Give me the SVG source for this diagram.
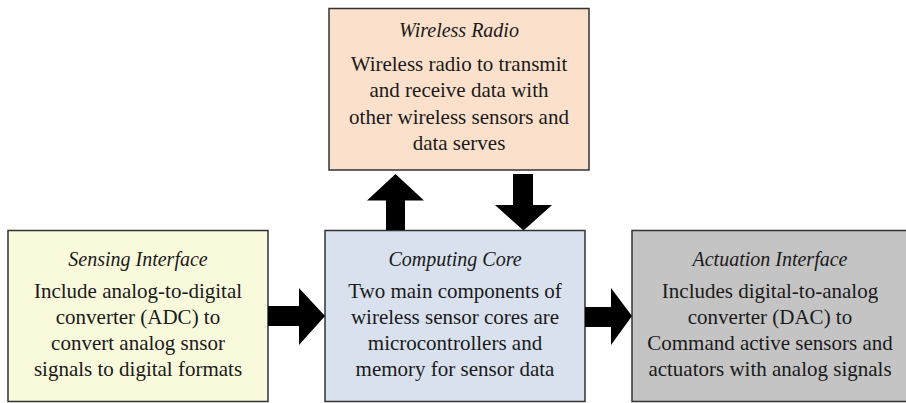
<svg xmlns="http://www.w3.org/2000/svg" width="906" height="403" viewBox="0 0 906 403">
<style>
.box{stroke:#333;stroke-width:1.5}
.t{font-family:'Liberation Serif',Tinos,'Times New Roman','DejaVu Serif',serif;font-style:italic;font-size:20px;fill:#1a1a1a;text-anchor:middle}
.b{font-family:'Liberation Serif',Tinos,'Times New Roman','DejaVu Serif',serif;font-size:21px;fill:#1a1a1a;text-anchor:middle}
.arr{fill:#000}
</style>
<rect width="906" height="403" fill="#fff"/>
<g id="wireless-radio">
<rect class="box" x="329" y="8.5" width="260" height="161.5" fill="#FBE0CB"/>
<text class="t" x="459" y="37">Wireless Radio</text>
<text class="b" x="459" y="71">Wireless radio to transmit</text>
<text class="b" x="459" y="97">and receive data with</text>
<text class="b" x="459" y="124">other wireless sensors and</text>
<text class="b" x="459" y="150">data serves</text>
</g>
<g id="sensing-interface">
<rect class="box" x="8" y="230.5" width="260" height="171" fill="#F9F9DC"/>
<text class="t" x="138" y="266">Sensing Interface</text>
<text class="b" x="138" y="298">Include analog-to-digital</text>
<text class="b" x="138" y="324">converter (ADC) to</text>
<text class="b" x="138" y="350">convert analog snsor</text>
<text class="b" x="138" y="376">signals to digital formats</text>
</g>
<g id="computing-core">
<rect class="box" x="325" y="230.5" width="260" height="171" fill="#D8E1ED"/>
<text class="t" x="455" y="266">Computing Core</text>
<text class="b" x="455" y="298">Two main components of</text>
<text class="b" x="455" y="324">wireless sensor cores are</text>
<text class="b" x="455" y="350">microcontrollers and</text>
<text class="b" x="455" y="376">memory for sensor data</text>
</g>
<g id="actuation-interface">
<rect class="box" x="632" y="230.5" width="280" height="171" fill="#C4C4C4"/>
<text class="t" x="770" y="266">Actuation Interface</text>
<text class="b" x="770" y="298">Includes digital-to-analog</text>
<text class="b" x="770" y="324">converter (DAC) to</text>
<text class="b" x="770" y="350">Command active sensors and</text>
<text class="b" x="770" y="376">actuators with analog signals</text>
</g>
<g id="connectors">
<polygon class="arr" points="268,306 299,306 299,288 325,316 299,345 299,326 268,326"/>
<polygon class="arr" points="585,307 611,307 611,288 632,316 611,345 611,327 585,327"/>
<polygon class="arr" points="395.5,174 424,200.5 405,200.5 405,230 386,230 386,200.5 367,200.5"/>
<polygon class="arr" points="513,174 533,174 533,205 552,205 523.5,230.5 495,205 513,205"/>
</g>
</svg>
